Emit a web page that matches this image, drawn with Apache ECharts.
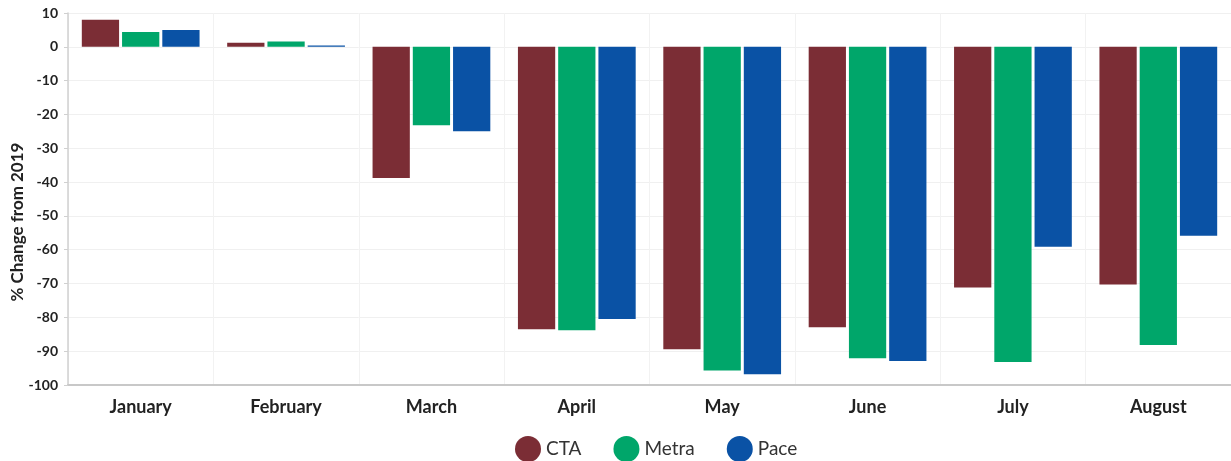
<!DOCTYPE html>
<html>
<head>
<meta charset="utf-8">
<script src="https://cdn.jsdelivr.net/npm/echarts@6/dist/echarts.min.js"></script>
<style>
html, body { margin: 0; padding: 0; background: #fff; }
#main { width: 1231px; height: 461px; }
</style>
</head>
<body>
<div id="main"></div>
<script>
var months = ['January', 'February', 'March', 'April', 'May', 'June', 'July', 'August'];
var cta = [8.0, 1.2, -38.8, -83.5, -89.4, -82.9, -71.2, -70.3];
var metra = [4.4, 1.6, -23.2, -83.8, -95.7, -92.1, -93.2, -88.2];
var pace = [5.0, 0.4, -25.0, -80.5, -96.8, -92.9, -59.1, -55.9];
var yTicks = [10, 0, -10, -20, -30, -40, -50, -60, -70, -80, -90, -100];

var myChart = echarts.init(document.getElementById('main'));
var font = 'Lato, "Open Sans", sans-serif';

var option = {
	animation: false,
	textStyle: { fontFamily: font },
	grid: { left: 68, right: 0, top: 13, bottom: 76, outerBoundsMode: 'none', containLabel: false },
	legend: {
		top: 431,
		left: 510,
		icon: 'circle',
		itemWidth: 26,
		itemHeight: 26,
		itemGap: 32,
		textStyle: { fontSize: 19, color: '#333', fontFamily: font },
		data: ['CTA', 'Metra', 'Pace']
	},
	xAxis: {
		type: 'category',
		data: months,
		position: 'bottom',
		axisLine: { onZero: false, lineStyle: { color: '#c8c8c8', width: 2 } },
		axisTick: { show: false },
		axisLabel: { fontSize: 18, fontWeight: 'bold', color: '#222', margin: 13, fontFamily: font },
		splitLine: { show: true, lineStyle: { color: '#f2f2f2', width: 1 } }
	},
	yAxis: {
		type: 'value',
		min: -100,
		max: 10,
		interval: 10,
		name: '% Change from 2019',
		nameLocation: 'middle',
		nameGap: 42,
		nameMoveOverlap: false,
		nameTextStyle: { fontSize: 17, fontWeight: 'bold', color: '#222', fontFamily: font, padding: [0, 46, 0, 0] },
		axisLine: { show: true, lineStyle: { color: '#d0d0d0', width: 1.5 } },
		axisTick: { show: true, length: 4, lineStyle: { color: '#d0d0d0' } },
		axisLabel: {
			fontSize: 14, fontWeight: 'bold', color: '#222', margin: 10, fontFamily: font,
			formatter: function (v) { return yTicks.indexOf(v) >= 0 ? String(v) : ''; }
		},
		splitLine: { show: true, lineStyle: { color: '#f0f0f0', width: 1 } }
	},
	series: [
		{ name: 'CTA', type: 'bar', data: cta, itemStyle: { color: '#7b2d35' },
		  barGap: '8%', barCategoryGap: '19%' },
		{ name: 'Metra', type: 'bar', data: metra, itemStyle: { color: '#00a66a' } },
		{ name: 'Pace', type: 'bar', data: pace, itemStyle: { color: '#0a52a5' } }
	]
};
myChart.setOption(option);
</script>
</body>
</html>
